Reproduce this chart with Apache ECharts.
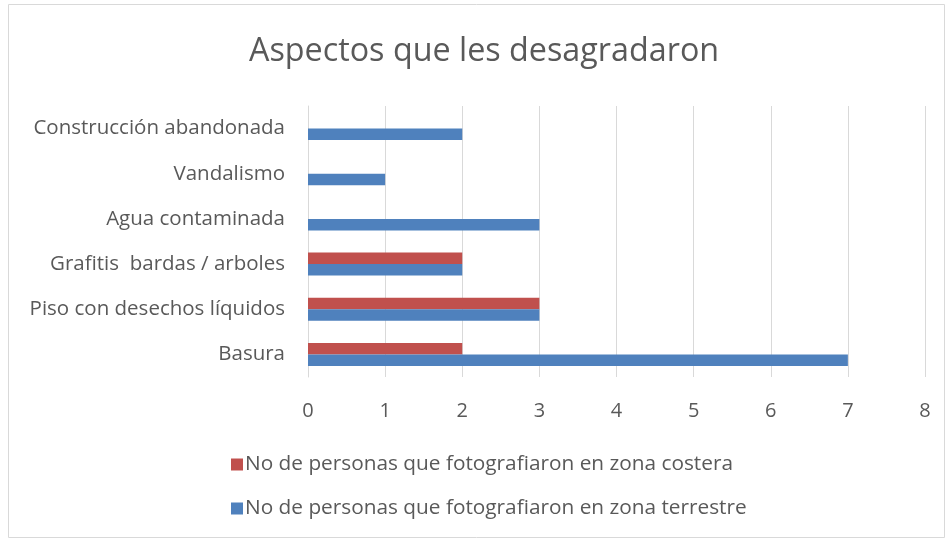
<!DOCTYPE html>
<html>
<head>
<meta charset="utf-8">
<script src="https://cdn.jsdelivr.net/npm/echarts@6/dist/echarts.min.js"></script>
<style>
  html, body { margin: 0; padding: 0; background: #fff; }
  #chart { width: 948px; height: 540px; }
</style>
</head>
<body>
<div id="chart"></div>
<script>
// categorias (de abajo hacia arriba)
var categories = [
  "Basura",
  "Piso con desechos líquidos",
  "Grafitis  bardas / arboles",
  "Agua contaminada",
  "Vandalismo",
  "Construcción abandonada"
];
var costera = [2, 3, 2, null, null, null];
var terrestre = [7, 3, 2, 3, 1, 2];
var nameCostera = "No de personas que fotografiaron en zona costera";
var nameTerrestre = "No de personas que fotografiaron en zona terrestre";

var chart = echarts.init(document.getElementById("chart"));
var font = "'Open Sans', 'Liberation Sans', sans-serif";

chart.setOption({
  animation: false,
  textStyle: { fontFamily: font },
  title: {
    text: "Aspectos que les desagradaron",
    left: 244,
    top: 31,
    textStyle: { color: "#595959", fontSize: 32.3, fontWeight: "normal", fontFamily: font }
  },
  legend: {
    orient: "vertical",
    left: 226,
    top: 449,
    itemGap: 23,
    itemWidth: 12,
    itemHeight: 12,
    icon: "rect",
    data: [nameCostera, nameTerrestre],
    textStyle: { color: "#595959", fontSize: 20.8, fontFamily: font, padding: [0, 0, 0, -3] }
  },
  grid: { left: 308, right: 23, top: 106, bottom: 163, containLabel: false },
  xAxis: {
    type: "value",
    min: 0,
    max: 8,
    interval: 1,
    axisLine: { show: false },
    axisTick: { show: false },
    axisLabel: { color: "#595959", fontSize: 20, margin: 24 },
    splitLine: { lineStyle: { color: "#d9d9d9", width: 1 } }
  },
  yAxis: {
    type: "category",
    data: categories,
    axisLine: { show: true, lineStyle: { color: "#d9d9d9" } },
    axisTick: { show: false },
    axisLabel: { color: "#595959", fontSize: 20.5, margin: 23 }
  },
  series: [
    {
      name: nameCostera,
      type: "bar",
      data: costera,
      barWidth: 11.5,
      barGap: "0%",
      itemStyle: { color: "#c0504d" }
    },
    {
      name: nameTerrestre,
      type: "bar",
      data: terrestre,
      barWidth: 11.5,
      barGap: "0%",
      itemStyle: { color: "#4f81bd" }
    }
  ],
  graphic: [{
    type: "rect",
    shape: { x: 8.5, y: 4.5, width: 936, height: 533 },
    style: { fill: null, stroke: "#d9d9d9", lineWidth: 1 },
    silent: true
  }]
});
</script>
</body>
</html>
